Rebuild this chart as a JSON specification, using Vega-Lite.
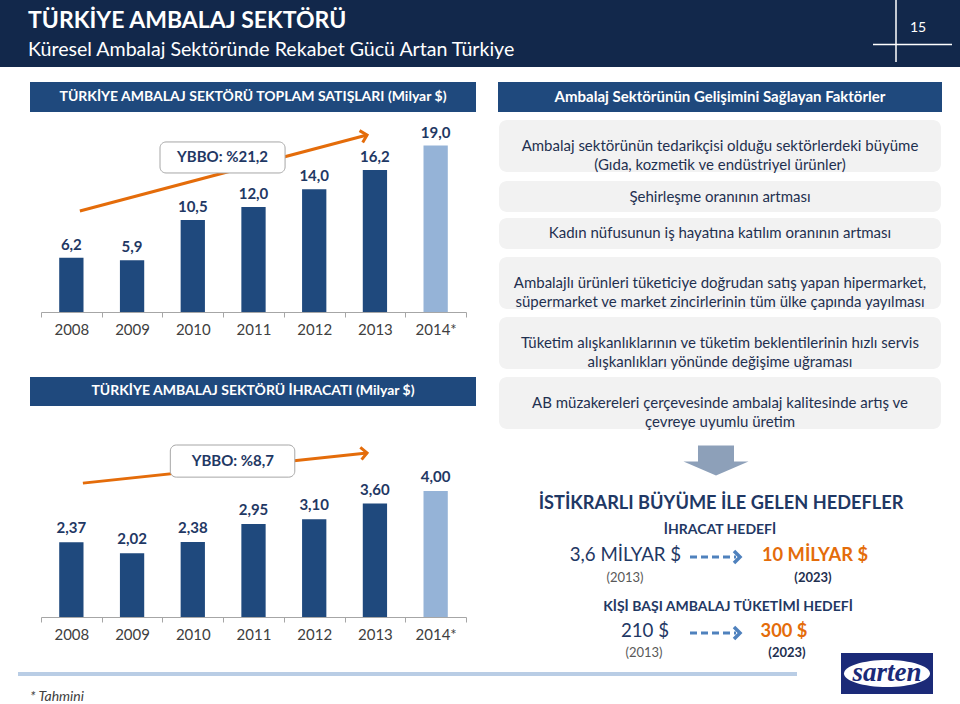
{
"$schema":"https://vega.github.io/schema/vega-lite/v6.json",
"width":960,"height":704,"padding":0,"autosize":{"type":"none"},"background":"white",
"config":{"view":{"stroke":null},"font":"Lato","locale":{"number":{"decimal":",","thousands":".","grouping":[3],"currency":["","$"]}}},
"resolve":{"scale":{"x":"independent","y":"independent","color":"independent"}},
"layer":[
{"data":{"values":[{}]},
 "layer":[
  {"mark":{"type":"rect","color":"#12284b"},"encoding":{"x":{"datum":0,"type":"quantitative","scale":{"domain":[0,720],"range":[0,960],"nice":false,"zero":false},"axis":null},"x2":{"datum":720},"y":{"datum":0,"type":"quantitative","scale":{"domain":[0,528],"range":[0,704],"nice":false,"zero":false},"axis":null},"y2":{"datum":50.25}}},
  {"mark":{"type":"text","text":"TÜRKİYE AMBALAJ SEKTÖRÜ","align":"left","baseline":"alphabetic","fontSize":23,"fontWeight":"bold","color":"white"},"encoding":{"x":{"datum":21,"type":"quantitative","scale":{"domain":[0,720],"range":[0,960],"nice":false,"zero":false},"axis":null},"y":{"datum":21,"type":"quantitative","scale":{"domain":[0,528],"range":[0,704],"nice":false,"zero":false},"axis":null}}},
  {"mark":{"type":"text","text":"Küresel Ambalaj Sektöründe Rekabet Gücü Artan Türkiye","align":"left","baseline":"alphabetic","fontSize":19.6,"color":"white"},"encoding":{"x":{"datum":21,"type":"quantitative","scale":{"domain":[0,720],"range":[0,960],"nice":false,"zero":false},"axis":null},"y":{"datum":42,"type":"quantitative","scale":{"domain":[0,528],"range":[0,704],"nice":false,"zero":false},"axis":null}}},
  {"mark":{"type":"text","text":"15","align":"center","baseline":"middle","fontSize":14,"color":"white"},"encoding":{"x":{"datum":688.5,"type":"quantitative","scale":{"domain":[0,720],"range":[0,960],"nice":false,"zero":false},"axis":null},"y":{"datum":21,"type":"quantitative","scale":{"domain":[0,528],"range":[0,704],"nice":false,"zero":false},"axis":null}}},
  {"mark":{"type":"rule","color":"white","strokeWidth":1.5},"encoding":{"x":{"datum":672,"type":"quantitative","scale":{"domain":[0,720],"range":[0,960],"nice":false,"zero":false},"axis":null},"y":{"datum":0,"type":"quantitative","scale":{"domain":[0,528],"range":[0,704],"nice":false,"zero":false},"axis":null},"y2":{"datum":46.5}}},
  {"mark":{"type":"rule","color":"white","strokeWidth":1.5},"encoding":{"x":{"datum":654.75,"type":"quantitative","scale":{"domain":[0,720],"range":[0,960],"nice":false,"zero":false},"axis":null},"x2":{"datum":714},"y":{"datum":33.4,"type":"quantitative","scale":{"domain":[0,528],"range":[0,704],"nice":false,"zero":false},"axis":null}}}
 ]},
{"resolve":{"scale":{"x":"independent"}},
 "layer":[
  {"data":{"values":[
    {"year":"2008","value":6.2,"status":"Gerçekleşen"},
    {"year":"2009","value":5.9,"status":"Gerçekleşen"},
    {"year":"2010","value":10.5,"status":"Gerçekleşen"},
    {"year":"2011","value":12.0,"status":"Gerçekleşen"},
    {"year":"2012","value":14.0,"status":"Gerçekleşen"},
    {"year":"2013","value":16.2,"status":"Gerçekleşen"},
    {"year":"2014*","value":19.0,"status":"Tahmini"}]},
   "encoding":{
    "x":{"field":"year","type":"ordinal","sort":null,"scale":{"range":[41,466],"paddingInner":0,"paddingOuter":0},"axis":{"orient":"bottom","offset":-392,"title":null,"labelFontSize":15,"labelColor":"#404040","labelPadding":5,"tickSize":5,"tickColor":"#a6a6a6","domainColor":"#a6a6a6","tickBand":"extent","labelAngle":0,"grid":false}},
    "y":{"field":"value","type":"quantitative","scale":{"domain":[0,21],"range":[312,128.04],"nice":false,"zero":true},"axis":null}},
   "layer":[
    {"mark":{"type":"bar","width":{"band":0.4}},"encoding":{"color":{"field":"status","type":"nominal","scale":{"domain":["Gerçekleşen","Tahmini"],"range":["#1f497d","#95b3d7"]},"legend":null}}},
    {"mark":{"type":"text","dy":-8,"baseline":"alphabetic","fontSize":15,"fontWeight":"bold","color":"#1f3864"},"encoding":{"text":{"field":"value","type":"quantitative","format":".1f"}}}
   ]},
  {"data":{"values":[{"cagr":"YBBO: %21,2"}]},
   "layer":[
    {"mark":{"type":"rule","color":"#e46c0a","strokeWidth":3},"encoding":{"x":{"datum":2008.14,"type":"quantitative","scale":{"domain":[2007.5,2014.5],"range":[41,466],"nice":false,"zero":false},"axis":null},"x2":{"datum":2012.87},"y":{"datum":11.53,"type":"quantitative","axis":null},"y2":{"datum":20.21}}},
    {"mark":{"type":"point","shape":"M-1,-1L0,0L-1,1","filled":false,"size":150,"angle":-14.8,"color":"#e46c0a","strokeWidth":3,"opacity":1},"encoding":{"x":{"datum":2012.87,"type":"quantitative","scale":{"domain":[2007.5,2014.5],"range":[41,466],"nice":false,"zero":false},"axis":null},"y":{"datum":20.21,"type":"quantitative","axis":null}}},
    {"mark":{"type":"rect","fill":"white","stroke":"#a6a6a6","strokeWidth":1,"cornerRadius":6},"encoding":{"x":{"datum":2009.46,"type":"quantitative","scale":{"domain":[2007.5,2014.5],"range":[41,466],"nice":false,"zero":false},"axis":null},"x2":{"datum":2011.52},"y":{"datum":19.41,"type":"quantitative","axis":null},"y2":{"datum":15.87}}},
    {"mark":{"type":"text","align":"center","baseline":"middle","fontSize":15,"fontWeight":"bold","color":"#1f3864"},"encoding":{"text":{"field":"cagr"},"x":{"datum":2010.49,"type":"quantitative","scale":{"domain":[2007.5,2014.5],"range":[41,466],"nice":false,"zero":false},"axis":null},"y":{"datum":17.69,"type":"quantitative","axis":null}}}
   ]}
 ]},
{"resolve":{"scale":{"x":"independent"}},
 "layer":[
  {"data":{"values":[
    {"year":"2008","value":2.37,"status":"Gerçekleşen"},
    {"year":"2009","value":2.02,"status":"Gerçekleşen"},
    {"year":"2010","value":2.38,"status":"Gerçekleşen"},
    {"year":"2011","value":2.95,"status":"Gerçekleşen"},
    {"year":"2012","value":3.10,"status":"Gerçekleşen"},
    {"year":"2013","value":3.60,"status":"Gerçekleşen"},
    {"year":"2014*","value":4.00,"status":"Tahmini"}]},
   "encoding":{
    "x":{"field":"year","type":"ordinal","sort":null,"scale":{"range":[41,466],"paddingInner":0,"paddingOuter":0},"axis":{"orient":"bottom","offset":-87,"title":null,"labelFontSize":15,"labelColor":"#404040","labelPadding":5,"tickSize":5,"tickColor":"#a6a6a6","domainColor":"#a6a6a6","tickBand":"extent","labelAngle":0,"grid":false}},
    "y":{"field":"value","type":"quantitative","scale":{"domain":[0,6],"range":[617,428],"nice":false,"zero":true},"axis":null}},
   "layer":[
    {"mark":{"type":"bar","width":{"band":0.4}},"encoding":{"color":{"field":"status","type":"nominal","scale":{"domain":["Gerçekleşen","Tahmini"],"range":["#1f497d","#95b3d7"]},"legend":null}}},
    {"mark":{"type":"text","dy":-9,"baseline":"alphabetic","fontSize":15,"fontWeight":"bold","color":"#1f3864"},"encoding":{"text":{"field":"value","type":"quantitative","format":".2f"}}}
   ]},
  {"data":{"values":[{"cagr":"YBBO: %8,7"}]},
   "layer":[
    {"mark":{"type":"rule","color":"#e46c0a","strokeWidth":3},"encoding":{"x":{"datum":2008.19,"type":"quantitative","scale":{"domain":[2007.5,2014.5],"range":[41,466],"nice":false,"zero":false},"axis":null},"x2":{"datum":2012.87},"y":{"datum":4.25,"type":"quantitative","axis":null},"y2":{"datum":5.21}}},
    {"mark":{"type":"point","shape":"M-1,-1L0,0L-1,1","filled":false,"size":150,"angle":-6,"color":"#e46c0a","strokeWidth":3,"opacity":1},"encoding":{"x":{"datum":2012.87,"type":"quantitative","scale":{"domain":[2007.5,2014.5],"range":[41,466],"nice":false,"zero":false},"axis":null},"y":{"datum":5.21,"type":"quantitative","axis":null}}},
    {"mark":{"type":"rect","fill":"white","stroke":"#a6a6a6","strokeWidth":1,"cornerRadius":6},"encoding":{"x":{"datum":2009.63,"type":"quantitative","scale":{"domain":[2007.5,2014.5],"range":[41,466],"nice":false,"zero":false},"axis":null},"x2":{"datum":2011.68},"y":{"datum":5.46,"type":"quantitative","axis":null},"y2":{"datum":4.44}}},
    {"mark":{"type":"text","align":"center","baseline":"middle","fontSize":15,"fontWeight":"bold","color":"#1f3864"},"encoding":{"text":{"field":"cagr"},"x":{"datum":2010.66,"type":"quantitative","scale":{"domain":[2007.5,2014.5],"range":[41,466],"nice":false,"zero":false},"axis":null},"y":{"datum":4.95,"type":"quantitative","axis":null}}}
   ]}
 ]},
{"data":{"values":[{"factor":"Ambalaj sektörünün tedarikçisi olduğu sektörlerdeki büyüme\n(Gıda, kozmetik ve endüstriyel ürünler)"}]},
 "encoding":{"y":{"field":"factor","type":"nominal","sort":null,"scale":{"range":[120,172],"paddingInner":0,"paddingOuter":0},"axis":null}},
 "layer":[
  {"mark":{"type":"rect","color":"#f2f2f2","cornerRadius":8},"encoding":{"x":{"datum":374.25,"type":"quantitative","scale":{"domain":[0,720],"range":[0,960],"nice":false,"zero":false},"axis":null},"x2":{"datum":705.75}}},
  {"mark":{"type":"text","align":"center","baseline":"middle","lineBreak":"\n","lineHeight":19,"fontSize":15,"color":"#1f3050"},"encoding":{"text":{"field":"factor"},"x":{"datum":540,"type":"quantitative","scale":{"domain":[0,720],"range":[0,960],"nice":false,"zero":false},"axis":null}}}
 ]},
{"data":{"values":[{"factor":"Şehirleşme oranının artması"},{"factor":"Kadın nüfusunun iş hayatına katılım oranının artması"}]},
 "encoding":{"y":{"field":"factor","type":"nominal","sort":null,"scale":{"range":[181,249],"paddingInner":0.162,"paddingOuter":0},"axis":null}},
 "layer":[
  {"mark":{"type":"rect","color":"#f2f2f2","cornerRadius":8},"encoding":{"x":{"datum":374.25,"type":"quantitative","scale":{"domain":[0,720],"range":[0,960],"nice":false,"zero":false},"axis":null},"x2":{"datum":705.75}}},
  {"mark":{"type":"text","align":"center","baseline":"middle","lineBreak":"\n","lineHeight":19,"fontSize":15,"color":"#1f3050"},"encoding":{"text":{"field":"factor"},"x":{"datum":540,"type":"quantitative","scale":{"domain":[0,720],"range":[0,960],"nice":false,"zero":false},"axis":null}}}
 ]},
{"data":{"values":[{"factor":"Ambalajlı ürünleri tüketiciye doğrudan satış yapan hipermarket,\nsüpermarket ve market zincirlerinin tüm ülke çapında yayılması"},{"factor":"Tüketim alışkanlıklarının ve tüketim beklentilerinin hızlı servis\nalışkanlıkları  yönünde değişime uğraması"},{"factor":"AB müzakereleri çerçevesinde ambalaj kalitesinde artış ve\nçevreye uyumlu üretim"}]},
 "encoding":{"y":{"field":"factor","type":"nominal","sort":null,"scale":{"range":[257,429],"paddingInner":0.1333,"paddingOuter":0},"axis":null}},
 "layer":[
  {"mark":{"type":"rect","color":"#f2f2f2","cornerRadius":8},"encoding":{"x":{"datum":374.25,"type":"quantitative","scale":{"domain":[0,720],"range":[0,960],"nice":false,"zero":false},"axis":null},"x2":{"datum":705.75}}},
  {"mark":{"type":"text","align":"center","baseline":"middle","lineBreak":"\n","lineHeight":19,"fontSize":15,"color":"#1f3050"},"encoding":{"text":{"field":"factor"},"x":{"datum":540,"type":"quantitative","scale":{"domain":[0,720],"range":[0,960],"nice":false,"zero":false},"axis":null}}}
 ]},
{"data":{"values":[{}]},
 "layer":[
  {"mark":{"type":"rect","color":"#1f497d"},"encoding":{"x":{"datum":22.5,"type":"quantitative","scale":{"domain":[0,720],"range":[0,960],"nice":false,"zero":false},"axis":null},"x2":{"datum":357},"y":{"datum":61.5,"type":"quantitative","scale":{"domain":[0,528],"range":[0,704],"nice":false,"zero":false},"axis":null},"y2":{"datum":84}}},
  {"mark":{"type":"text","text":"TÜRKİYE AMBALAJ SEKTÖRÜ TOPLAM SATIŞLARI (Milyar $)","align":"center","baseline":"middle","fontSize":14,"fontWeight":"bold","color":"white"},"encoding":{"x":{"datum":189.75,"type":"quantitative","scale":{"domain":[0,720],"range":[0,960],"nice":false,"zero":false},"axis":null},"y":{"datum":72.75,"type":"quantitative","scale":{"domain":[0,528],"range":[0,704],"nice":false,"zero":false},"axis":null}}},
  {"mark":{"type":"rect","color":"#1f497d"},"encoding":{"x":{"datum":22.5,"type":"quantitative","scale":{"domain":[0,720],"range":[0,960],"nice":false,"zero":false},"axis":null},"x2":{"datum":357},"y":{"datum":282.75,"type":"quantitative","scale":{"domain":[0,528],"range":[0,704],"nice":false,"zero":false},"axis":null},"y2":{"datum":304.5}}},
  {"mark":{"type":"text","text":"TÜRKİYE AMBALAJ SEKTÖRÜ İHRACATI (Milyar $)","align":"center","baseline":"middle","fontSize":14,"fontWeight":"bold","color":"white"},"encoding":{"x":{"datum":189.75,"type":"quantitative","scale":{"domain":[0,720],"range":[0,960],"nice":false,"zero":false},"axis":null},"y":{"datum":293.6,"type":"quantitative","scale":{"domain":[0,528],"range":[0,704],"nice":false,"zero":false},"axis":null}}},
  {"mark":{"type":"rect","color":"#1f497d"},"encoding":{"x":{"datum":373.5,"type":"quantitative","scale":{"domain":[0,720],"range":[0,960],"nice":false,"zero":false},"axis":null},"x2":{"datum":706.5},"y":{"datum":61.5,"type":"quantitative","scale":{"domain":[0,528],"range":[0,704],"nice":false,"zero":false},"axis":null},"y2":{"datum":84}}},
  {"mark":{"type":"text","text":"Ambalaj Sektörünün Gelişimini Sağlayan Faktörler","align":"center","baseline":"middle","fontSize":15,"fontWeight":"bold","color":"white"},"encoding":{"x":{"datum":540,"type":"quantitative","scale":{"domain":[0,720],"range":[0,960],"nice":false,"zero":false},"axis":null},"y":{"datum":72.75,"type":"quantitative","scale":{"domain":[0,528],"range":[0,704],"nice":false,"zero":false},"axis":null}}},
  {"mark":{"type":"point","shape":"M-0.554,-0.46L0.554,-0.46L0.554,0.03L1,0.03L0,0.46L-1,0.03L-0.554,0.03Z","filled":true,"size":4225,"color":"#8da0b9","opacity":1},"encoding":{"x":{"datum":537,"type":"quantitative","scale":{"domain":[0,720],"range":[0,960],"nice":false,"zero":false},"axis":null},"y":{"datum":345.4,"type":"quantitative","scale":{"domain":[0,528],"range":[0,704],"nice":false,"zero":false},"axis":null}}},
  {"mark":{"type":"text","text":"İSTİKRARLI BÜYÜME İLE GELEN HEDEFLER","align":"center","baseline":"alphabetic","fontSize":18.2,"fontWeight":"bold","color":"#1f3864"},"encoding":{"x":{"datum":540.75,"type":"quantitative","scale":{"domain":[0,720],"range":[0,960],"nice":false,"zero":false},"axis":null},"y":{"datum":381.75,"type":"quantitative","scale":{"domain":[0,528],"range":[0,704],"nice":false,"zero":false},"axis":null}}},
  {"mark":{"type":"text","text":"İHRACAT HEDEFİ","align":"center","baseline":"alphabetic","fontSize":14,"fontWeight":"bold","color":"#1f3864"},"encoding":{"x":{"datum":540,"type":"quantitative","scale":{"domain":[0,720],"range":[0,960],"nice":false,"zero":false},"axis":null},"y":{"datum":400.5,"type":"quantitative","scale":{"domain":[0,528],"range":[0,704],"nice":false,"zero":false},"axis":null}}},
  {"mark":{"type":"text","text":"3,6 MİLYAR $","align":"center","baseline":"alphabetic","fontSize":18.7,"color":"#1f3864"},"encoding":{"x":{"datum":469.1,"type":"quantitative","scale":{"domain":[0,720],"range":[0,960],"nice":false,"zero":false},"axis":null},"y":{"datum":420.75,"type":"quantitative","scale":{"domain":[0,528],"range":[0,704],"nice":false,"zero":false},"axis":null}}},
  {"mark":{"type":"text","text":"10 MİLYAR $","align":"center","baseline":"alphabetic","fontSize":18.3,"fontWeight":"bold","color":"#e46c0a"},"encoding":{"x":{"datum":611.25,"type":"quantitative","scale":{"domain":[0,720],"range":[0,960],"nice":false,"zero":false},"axis":null},"y":{"datum":420.75,"type":"quantitative","scale":{"domain":[0,528],"range":[0,704],"nice":false,"zero":false},"axis":null}}},
  {"mark":{"type":"text","text":"(2013)","align":"center","baseline":"alphabetic","fontSize":13,"color":"#595959"},"encoding":{"x":{"datum":468.75,"type":"quantitative","scale":{"domain":[0,720],"range":[0,960],"nice":false,"zero":false},"axis":null},"y":{"datum":436.5,"type":"quantitative","scale":{"domain":[0,528],"range":[0,704],"nice":false,"zero":false},"axis":null}}},
  {"mark":{"type":"text","text":"(2023)","align":"center","baseline":"alphabetic","fontSize":13,"fontWeight":"bold","color":"#1f3050"},"encoding":{"x":{"datum":609.75,"type":"quantitative","scale":{"domain":[0,720],"range":[0,960],"nice":false,"zero":false},"axis":null},"y":{"datum":436.5,"type":"quantitative","scale":{"domain":[0,528],"range":[0,704],"nice":false,"zero":false},"axis":null}}},
  {"mark":{"type":"rule","color":"#4f81bd","strokeWidth":3,"strokeDash":[7,4]},"encoding":{"x":{"datum":517.5,"type":"quantitative","scale":{"domain":[0,720],"range":[0,960],"nice":false,"zero":false},"axis":null},"x2":{"datum":552},"y":{"datum":417.75,"type":"quantitative","scale":{"domain":[0,528],"range":[0,704],"nice":false,"zero":false},"axis":null}}},
  {"mark":{"type":"point","shape":"M-1,-1L0,0L-1,1","filled":false,"size":144,"color":"#4f81bd","strokeWidth":3.5,"opacity":1},"encoding":{"x":{"datum":555,"type":"quantitative","scale":{"domain":[0,720],"range":[0,960],"nice":false,"zero":false},"axis":null},"y":{"datum":417.75,"type":"quantitative","scale":{"domain":[0,528],"range":[0,704],"nice":false,"zero":false},"axis":null}}},
  {"mark":{"type":"text","text":"KİŞİ BAŞI AMBALAJ TÜKETİMİ HEDEFİ","align":"center","baseline":"alphabetic","fontSize":14,"fontWeight":"bold","color":"#1f3864"},"encoding":{"x":{"datum":546,"type":"quantitative","scale":{"domain":[0,720],"range":[0,960],"nice":false,"zero":false},"axis":null},"y":{"datum":458.25,"type":"quantitative","scale":{"domain":[0,528],"range":[0,704],"nice":false,"zero":false},"axis":null}}},
  {"mark":{"type":"text","text":"210 $","align":"center","baseline":"alphabetic","fontSize":18.7,"color":"#1f3864"},"encoding":{"x":{"datum":483.75,"type":"quantitative","scale":{"domain":[0,720],"range":[0,960],"nice":false,"zero":false},"axis":null},"y":{"datum":477.75,"type":"quantitative","scale":{"domain":[0,528],"range":[0,704],"nice":false,"zero":false},"axis":null}}},
  {"mark":{"type":"text","text":"300 $","align":"center","baseline":"alphabetic","fontSize":18.3,"fontWeight":"bold","color":"#e46c0a"},"encoding":{"x":{"datum":588,"type":"quantitative","scale":{"domain":[0,720],"range":[0,960],"nice":false,"zero":false},"axis":null},"y":{"datum":477.75,"type":"quantitative","scale":{"domain":[0,528],"range":[0,704],"nice":false,"zero":false},"axis":null}}},
  {"mark":{"type":"text","text":"(2013)","align":"center","baseline":"alphabetic","fontSize":13,"color":"#595959"},"encoding":{"x":{"datum":483,"type":"quantitative","scale":{"domain":[0,720],"range":[0,960],"nice":false,"zero":false},"axis":null},"y":{"datum":492.75,"type":"quantitative","scale":{"domain":[0,528],"range":[0,704],"nice":false,"zero":false},"axis":null}}},
  {"mark":{"type":"text","text":"(2023)","align":"center","baseline":"alphabetic","fontSize":13,"fontWeight":"bold","color":"#1f3050"},"encoding":{"x":{"datum":590.25,"type":"quantitative","scale":{"domain":[0,720],"range":[0,960],"nice":false,"zero":false},"axis":null},"y":{"datum":492.75,"type":"quantitative","scale":{"domain":[0,528],"range":[0,704],"nice":false,"zero":false},"axis":null}}},
  {"mark":{"type":"rule","color":"#4f81bd","strokeWidth":3,"strokeDash":[7,4]},"encoding":{"x":{"datum":517.5,"type":"quantitative","scale":{"domain":[0,720],"range":[0,960],"nice":false,"zero":false},"axis":null},"x2":{"datum":552},"y":{"datum":474.75,"type":"quantitative","scale":{"domain":[0,528],"range":[0,704],"nice":false,"zero":false},"axis":null}}},
  {"mark":{"type":"point","shape":"M-1,-1L0,0L-1,1","filled":false,"size":144,"color":"#4f81bd","strokeWidth":3.5,"opacity":1},"encoding":{"x":{"datum":555,"type":"quantitative","scale":{"domain":[0,720],"range":[0,960],"nice":false,"zero":false},"axis":null},"y":{"datum":474.75,"type":"quantitative","scale":{"domain":[0,528],"range":[0,704],"nice":false,"zero":false},"axis":null}}},
  {"mark":{"type":"rect","color":"#b9cde5"},"encoding":{"x":{"datum":13.5,"type":"quantitative","scale":{"domain":[0,720],"range":[0,960],"nice":false,"zero":false},"axis":null},"x2":{"datum":597.75},"y":{"datum":504,"type":"quantitative","scale":{"domain":[0,528],"range":[0,704],"nice":false,"zero":false},"axis":null},"y2":{"datum":507}}},
  {"mark":{"type":"text","text":"* Tahmini","align":"left","baseline":"alphabetic","fontSize":14,"fontStyle":"italic","color":"#404040"},"encoding":{"x":{"datum":22.5,"type":"quantitative","scale":{"domain":[0,720],"range":[0,960],"nice":false,"zero":false},"axis":null},"y":{"datum":525.75,"type":"quantitative","scale":{"domain":[0,528],"range":[0,704],"nice":false,"zero":false},"axis":null}}},
  {"mark":{"type":"rect","color":"#1b2a78"},"encoding":{"x":{"datum":630.75,"type":"quantitative","scale":{"domain":[0,720],"range":[0,960],"nice":false,"zero":false},"axis":null},"x2":{"datum":699.75},"y":{"datum":489.75,"type":"quantitative","scale":{"domain":[0,528],"range":[0,704],"nice":false,"zero":false},"axis":null},"y2":{"datum":520.5}}},
  {"mark":{"type":"point","shape":"M-1,0C-1,-0.173,-0.552,-0.314,0,-0.314C0.552,-0.314,1,-0.173,1,0C1,0.173,0.552,0.314,0,0.314C-0.552,0.314,-1,0.173,-1,0Z","filled":true,"size":7396,"color":"white","opacity":1},"encoding":{"x":{"datum":665.25,"type":"quantitative","scale":{"domain":[0,720],"range":[0,960],"nice":false,"zero":false},"axis":null},"y":{"datum":505.1,"type":"quantitative","scale":{"domain":[0,528],"range":[0,704],"nice":false,"zero":false},"axis":null}}},
  {"mark":{"type":"text","text":"sarten","align":"center","baseline":"middle","font":"Liberation Serif","fontSize":27,"fontStyle":"italic","fontWeight":"bold","color":"#1b2a78"},"encoding":{"x":{"datum":665.25,"type":"quantitative","scale":{"domain":[0,720],"range":[0,960],"nice":false,"zero":false},"axis":null},"y":{"datum":504.5,"type":"quantitative","scale":{"domain":[0,528],"range":[0,704],"nice":false,"zero":false},"axis":null}}}
 ]}
]
}
